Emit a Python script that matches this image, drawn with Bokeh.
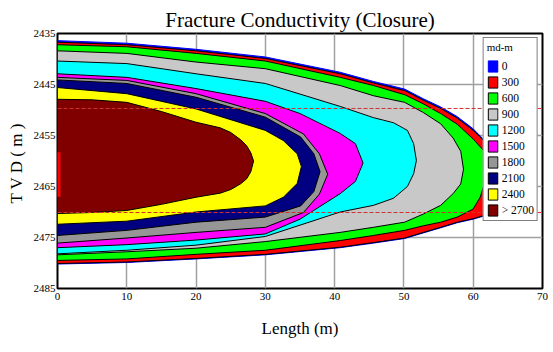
from bokeh.plotting import figure
from bokeh.models import Range1d, Span, Legend, LegendItem, FixedTicker
from bokeh.embed import file_html
from bokeh.resources import INLINE

# ---- data ----
x_ticks = [0, 10, 20, 30, 40, 50, 60, 70]
y_ticks = [2435, 2445, 2455, 2465, 2475, 2485]

levels = ["0", "300", "600", "900", "1200", "1500", "1800", "2100", "2400", "> 2700"]
colors = ["#0000ff", "#ff0000", "#00ff00", "#c8c8c8", "#00ffff",
          "#ff00ff", "#969696", "#000080", "#ffff00", "#800000"]
edge_colors = ["#0000ff", "black", "black", "black", "black",
               "black", "black", "black", "black", "black"]

# contour outlines: length stations (m), top depth and bottom depth (m); last station = tip
x_0 = [0, 10, 20, 30, 40.8, 45.6, 50.1, 52.8, 55.3, 57.7, 60.0, 61.5, 62.0, 62.2, 62.35]
top_0 = [2436.4, 2436.9, 2438.1, 2439.6, 2442.6, 2444.4, 2445.9, 2447.8, 2449.4, 2451.3,
         2453.7, 2455.8, 2457.8, 2459.9, 2463.1]
bot_0 = [2480.2, 2479.9, 2479.2, 2478.4, 2477.0, 2476.1, 2475.2, 2474.1, 2473.1, 2472.1,
         2471.4, 2470.8, 2469.9, 2467.8, 2463.1]

x_300 = [0, 10, 20, 30, 40.8, 45.6, 50.1, 52.8, 55.3, 57.7, 60.0, 61.5, 62.0, 62.2, 62.3]
top_300 = [2436.7, 2437.2, 2438.4, 2439.9, 2442.9, 2444.7, 2446.2, 2448.1, 2449.7, 2451.6,
           2454.0, 2456.0, 2457.9, 2459.9, 2463.1]
bot_300 = [2480.1, 2479.8, 2479.1, 2478.3, 2476.9, 2476.0, 2475.1, 2474.0, 2473.0, 2472.0,
           2471.3, 2470.7, 2469.8, 2467.8, 2463.1]

x_600 = [0, 10, 20, 30, 40.8, 45.6, 50.1, 52.8, 55.3, 57.7, 60.0, 61.0, 61.6, 61.8]
top_600 = [2437.2, 2437.6, 2438.9, 2440.4, 2443.6, 2445.2, 2447.0, 2448.8, 2450.7, 2452.8,
           2455.7, 2457.2, 2458.1, 2461.1]
bot_600 = [2479.5, 2479.2, 2478.3, 2477.5, 2475.6, 2474.6, 2473.6, 2472.7, 2472.0, 2471.0,
           2469.4, 2467.1, 2464.6, 2461.1]

x_900 = [0, 10, 20, 30, 40.8, 45.6, 50.1, 52.8, 55.3, 57.1, 58.2, 58.6]
top_900 = [2438.4, 2438.9, 2440.6, 2441.9, 2445.2, 2447.2, 2448.5, 2450.5, 2452.7, 2455.5,
           2458.1, 2461.6]
bot_900 = [2478.4, 2477.8, 2477.1, 2475.8, 2474.0, 2473.0, 2472.0, 2470.4, 2468.7, 2466.4,
           2464.5, 2461.6]

x_1200 = [0, 10, 20, 30, 40.8, 45.6, 48.5, 50.5, 51.4, 51.8]
top_1200 = [2440.4, 2440.9, 2442.9, 2444.8, 2449.3, 2451.5, 2452.5, 2454.0, 2456.6, 2459.9]
bot_1200 = [2478.2, 2477.5, 2476.5, 2474.8, 2470.0, 2468.7, 2467.3, 2465.0, 2462.5, 2459.9]

x_1500 = [0, 10, 20, 30, 35, 40.8, 43, 44.1]
top_1500 = [2442.9, 2443.6, 2445.8, 2448.3, 2450.7, 2454.6, 2456.6, 2460.4]
bot_1500 = [2477.0, 2476.4, 2475.5, 2474.3, 2471.4, 2466.4, 2464.0, 2460.4]

x_1800 = [0, 10, 20, 30, 35.5, 37.8, 39.0]
top_1800 = [2443.6, 2444.2, 2446.8, 2450.7, 2454.7, 2458.6, 2462.6]
bot_1800 = [2476.1, 2475.1, 2474.0, 2473.0, 2470.1, 2466.5, 2462.6]

x_2100 = [0, 10, 20, 30, 35.1, 37.0, 37.9]
top_2100 = [2444.1, 2444.8, 2447.5, 2451.4, 2455.3, 2458.6, 2462.1]
bot_2100 = [2474.6, 2473.6, 2472.0, 2471.0, 2468.8, 2466.0, 2462.1]

x_2400 = [0, 10, 20, 30, 32.6, 34.6, 35.2]
top_2400 = [2445.6, 2446.8, 2449.8, 2454.0, 2456.0, 2458.6, 2461.1]
bot_2400 = [2472.4, 2471.8, 2470.0, 2468.8, 2467.1, 2464.4, 2461.1]

x_2700 = [0, 5, 10, 15, 20, 23.5, 25.0, 26.4, 27.3, 27.9, 28.3]
top_2700 = [2447.9, 2448.0, 2448.5, 2450.3, 2452.4, 2453.5, 2454.4, 2455.8, 2457.0, 2458.4, 2460.0]
bot_2700 = [2470.3, 2470.1, 2469.7, 2468.5, 2467.1, 2466.3, 2465.6, 2464.5, 2463.5, 2462.1, 2460.0]

pay_zone = [2449.7, 2470.1]          # red dashed lines
perf_top, perf_bot = 2458.3, 2467.0  # perforated interval at the wellbore

outlines = [(x_0, top_0, bot_0), (x_300, top_300, bot_300), (x_600, top_600, bot_600),
            (x_900, top_900, bot_900), (x_1200, top_1200, bot_1200),
            (x_1500, top_1500, bot_1500), (x_1800, top_1800, bot_1800),
            (x_2100, top_2100, bot_2100), (x_2400, top_2400, bot_2400),
            (x_2700, top_2700, bot_2700)]

# ---- figure ----
p = figure(width=550, height=350, x_range=Range1d(0, 70), y_range=Range1d(2485, 2435),
           output_backend="svg", toolbar_location=None,
           min_border_left=57, min_border_right=8, min_border_top=33, min_border_bottom=62)

p.title.text = "Fracture Conductivity (Closure)"
p.title.text_font = "Liberation Serif"
p.title.text_font_size = "21px"
p.title.text_font_style = "normal"
p.title.text_color = "black"
p.title.align = "center"
p.title.standoff = 3
p.title.offset = 0

p.outline_line_color = "black"
p.outline_line_width = 2
p.outline_line_alpha = 1

p.xaxis.ticker = FixedTicker(ticks=x_ticks)
p.yaxis.ticker = FixedTicker(ticks=y_ticks)
for ax in (p.xaxis[0], p.yaxis[0]):
    ax.axis_line_color = None
    ax.major_tick_line_color = None
    ax.minor_tick_line_color = None
    ax.major_tick_out = 0
    ax.major_tick_in = 0
    ax.minor_tick_out = 0
    ax.minor_tick_in = 0
    ax.major_label_text_font = "Liberation Sans Narrow"
    ax.major_label_text_font_size = "11px"
    ax.major_label_text_color = "black"
    ax.axis_label_text_font = "Liberation Serif"
    ax.axis_label_text_font_style = "normal"
    ax.axis_label_text_font_size = "17px"
    ax.axis_label_text_color = "black"

p.xaxis.major_label_standoff = 4
p.yaxis.major_label_standoff = 2
p.xaxis.axis_label = "Length (m)"
p.xaxis.axis_label_standoff = 16
p.yaxis.axis_label = "T V D  ( m )"
p.yaxis.axis_label_standoff = 5

p.xgrid.grid_line_color = "#a0a0a0"
p.ygrid.grid_line_color = "#a0a0a0"
p.xgrid.grid_line_width = 1.5
p.ygrid.grid_line_width = 1.5

renderers = []
for (xs, top, bot), col, edge in zip(outlines, colors, edge_colors):
    px = list(xs) + list(xs[::-1][1:])
    py = list(top) + list(bot[::-1][1:])
    r = p.patch(px, py, fill_color=col, line_color=edge, line_width=1)
    renderers.append(r)

for d in pay_zone:
    p.add_layout(Span(location=d, dimension="width", line_color="#d03030",
                      line_dash="4 2", line_width=1))

p.segment(x0=[0], y0=[perf_top], x1=[0], y1=[perf_bot], line_color="red", line_width=6)

legend = Legend(items=[LegendItem(label=lab, renderers=[r]) for lab, r in zip(levels, renderers)],
                location="top_right", title="md-m")
legend.title_text_font = "Liberation Serif"
legend.title_text_font_size = "11px"
legend.title_text_font_style = "normal"
legend.title_text_color = "black"
legend.title_standoff = 6
legend.label_text_font = "Liberation Serif"
legend.label_text_font_size = "11.5px"
legend.label_text_color = "black"
legend.label_standoff = 3
legend.label_height = 14
legend.label_width = 20
legend.glyph_height = 14
legend.glyph_width = 12
legend.spacing = 2
legend.padding = 3
legend.margin = 4
legend.border_line_color = "black"
legend.border_line_width = 1
legend.background_fill_alpha = 1
p.add_layout(legend)

open("out.html", "w").write(file_html(p, INLINE))
